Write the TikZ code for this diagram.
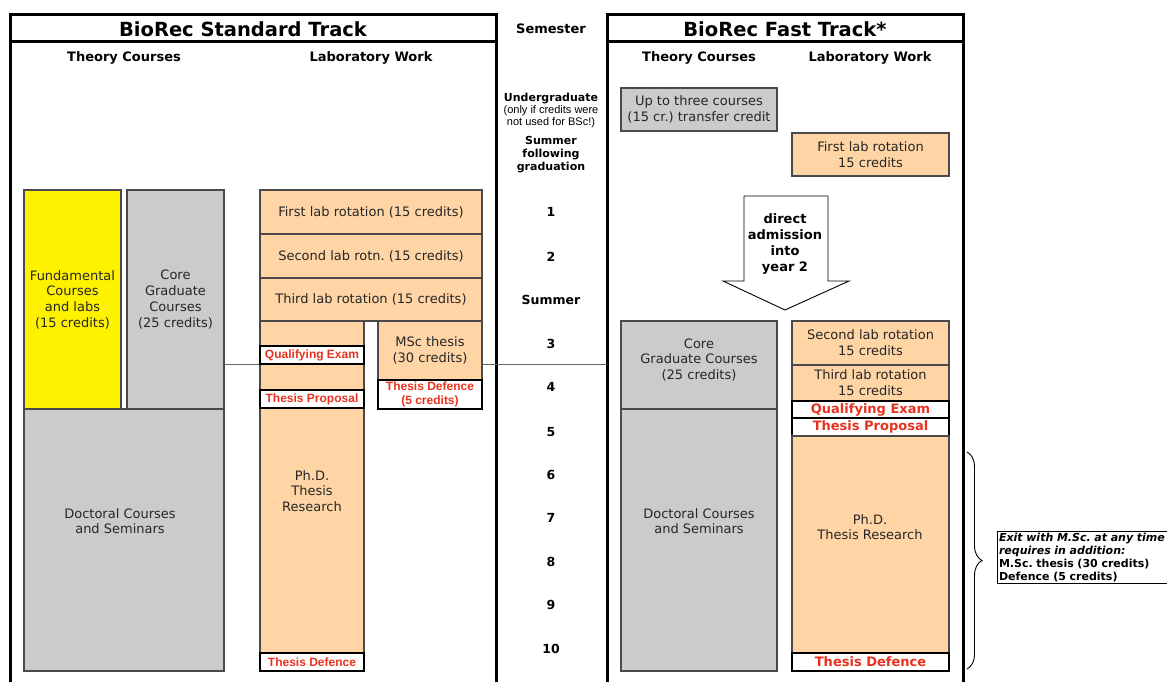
\documentclass[tikz,border=0pt]{standalone}
\usepackage{fontspec}
\setmainfont{DejaVu Sans}
\newfontfamily\arialf{Liberation Sans}
\usetikzlibrary{decorations.pathreplacing}
\frenchspacing
\definecolor{fyellow}{HTML}{FFF200}
\definecolor{fgray}{HTML}{CBCBCB}
\definecolor{forange}{HTML}{FFD5A6}
\definecolor{fred}{HTML}{E8321E}
\definecolor{fline}{HTML}{4A4A4A}
\newcommand\fsBody{\fontsize{13}{15.7}\selectfont}
\newcommand\fsTitle{\fontsize{19.5}{22}\selectfont\bfseries}
\newcommand\fsHead{\fontsize{13}{15}\selectfont\bfseries}
\newcommand\fsSem{\fontsize{12.5}{15}\selectfont\bfseries}
\newcommand\fsSemS{\fontsize{11}{13}\selectfont\bfseries}
\newcommand\fsNote{\arialf\fontsize{11}{12}\selectfont}
\newcommand\fsRedL{\arialf\fontsize{12}{13.5}\selectfont\bfseries}
\newcommand\fsRedR{\fontsize{13}{15}\selectfont\bfseries}
\newcommand\fsExit{\fontsize{11}{13}\selectfont\bfseries}
\begin{document}
\begin{tikzpicture}[x=1pt,y=-1pt,
  bx/.style={draw=fline, line width=1.1pt, inner sep=0pt, align=center, font=\fsBody, text=black!85},
  gbox/.style={bx, fill=fgray},
  obox/.style={bx, fill=forange},
  ybox/.style={bx, fill=fyellow},
  wbox/.style={draw=black, line width=1.1pt, fill=white, inner sep=0pt, align=center, text=fred},
  lbl/.style={inner sep=0pt, align=center, font=\fsBody, text=black!85},
  sem/.style={inner sep=0pt, align=center, font=\fsSem},
  hdr/.style={inner sep=0pt, font=\fsHead},
  ttl/.style={inner sep=0pt, font=\fsTitle},
  frame/.style={line width=3pt, black},
  sepline/.style={draw=black!60, line width=1pt}]
\useasboundingbox (0,0) rectangle (1167,682);
% frames
\draw[frame] (10,682) -- (10,15) -- (496,15) -- (496,682);
\draw[frame] (10,42) -- (496,42);
\draw[frame] (607,682) -- (607,15) -- (963,15) -- (963,682);
\draw[frame] (607,42) -- (963,42);
% titles
\node[ttl] (tL) at (243,29) {BioRec Standard Track};
\node[ttl] (tR) at (785,29) {BioRec Fast Track*};
\node[hdr] (sem) at (551,29) {Semester};
\node[hdr] (hL1) at (124,58) {Theory Courses};
\node[hdr] (hL2) at (371,58) {Laboratory Work};
\node[hdr] (hR1) at (699,58) {Theory Courses};
\node[hdr] (hR2) at (870,58) {Laboratory Work};
% semester column
\node[inner sep=0pt, font=\fsSemS] (ug) at (551,99) {Undergraduate};
\node[inner sep=0pt, align=center, font=\fsNote] (ugn) at (551,117) {(only if credits were\\not used for BSc!)};
\node[inner sep=0pt, align=center, font=\fsSemS] (sfg) at (551,155) {Summer\\following\\graduation};
\node[sem] (s1) at (551,212) {1};
\node[sem] (s2) at (551,257) {2};
\node[sem] (ssum) at (551,300) {Summer};
\node[sem] (s3) at (551,344) {3};
\node[sem] (s4) at (551,387) {4};
\node[sem] (s5) at (551,432) {5};
\node[sem] (s6) at (551,475) {6};
\node[sem] (s7) at (551,518) {7};
\node[sem] (s8) at (551,562) {8};
\node[sem] (s9) at (551,605) {9};
\node[sem] (s10) at (551,649) {10};
% standard track theory
\node[ybox, minimum width=97pt, minimum height=219pt] (fund) at (72.5,299.5) {Fundamental\\Courses\\and labs\\(15 credits)};
\node[gbox, minimum width=97pt, minimum height=219pt] (coreL) at (175.5,299.5) {Core\\Graduate\\Courses\\(25 credits)};
\node[gbox, minimum width=200pt, minimum height=262pt] (docL) at (124,540) {};
\node[lbl] (docLt) at (120,521) {Doctoral Courses\\and Seminars};
% standard track lab
\node[obox, minimum width=222pt, minimum height=44pt] (lab1) at (371,212) {First lab rotation (15 credits)};
\node[obox, minimum width=222pt, minimum height=44pt] (lab2) at (371,256) {Second lab rotn. (15 credits)};
\node[obox, minimum width=222pt, minimum height=43pt] (lab3) at (371,299.5) {Third lab rotation (15 credits)};
\node[obox, minimum width=104pt, minimum height=350pt] (phdL) at (312,496) {};
\node[wbox, font=\fsRedL, minimum width=104pt, minimum height=18pt] (qeL) at (312,355) {Qualifying Exam};
\node[wbox, font=\fsRedL, minimum width=104pt, minimum height=18pt] (tpL) at (312,399) {Thesis Proposal};
\node[wbox, font=\fsRedL, minimum width=104pt, minimum height=18pt] (tdL) at (312,662) {Thesis Defence};
\node[lbl] (phdLt) at (312,491) {Ph.D.\\Thesis\\Research};
\node[obox, minimum width=104pt, minimum height=59pt] (msc) at (430,350.5) {MSc thesis\\(30 credits)};
\node[wbox, font=\fsRedL, minimum width=104pt, minimum height=29pt] (mscd) at (430,394.5) {Thesis Defence\\(5 credits)};
% separator lines
\coordinate (y34) at (0,364);
\coordinate (frR) at (607,364);
\draw[sepline] (coreL.east |- y34) -- (phdL.west |- y34);
\draw[sepline] (msc.east |- y34) -- (frR);
% fast track
\node[gbox, minimum width=156pt, minimum height=43pt] (transfer) at (699,109.5) {Up to three courses\\(15 cr.) transfer credit};
\node[obox, minimum width=157pt, minimum height=43pt] (lab1R) at (870.5,154.5) {First lab rotation\\15 credits};
\draw[line width=0.9pt, fill=white] (744,196) -- (828,196) -- (828,281) -- (849,281) -- (785,310) -- (723,281) -- (744,281) -- cycle;
\node[inner sep=0pt, align=center, font=\fontsize{13}{16}\selectfont\bfseries] (arrt) at (785,244) {direct\\admission\\into\\year 2};
\node[gbox, minimum width=156pt, minimum height=88pt] (coreR) at (699,365) {};
\node[lbl] (coreRt) at (699,360) {Core\\Graduate Courses\\(25 credits)};
\node[gbox, minimum width=156pt, minimum height=262pt] (docR) at (699,540) {};
\node[lbl] (docRt) at (699,521) {Doctoral Courses\\and Seminars};
\node[obox, minimum width=157pt, minimum height=44pt] (lab2R) at (870.5,343) {Second lab rotation\\15 credits};
\node[obox, minimum width=157pt, minimum height=36pt] (lab3R) at (870.5,383) {Third lab rotation\\15 credits};
\node[wbox, font=\fsRedR, minimum width=157pt, minimum height=17pt] (qeR) at (870.5,409.5) {Qualifying Exam};
\node[wbox, font=\fsRedR, minimum width=157pt, minimum height=18pt] (tpR) at (870.5,427) {Thesis Proposal};
\node[obox, minimum width=157pt, minimum height=217pt] (phdR) at (870.5,544.5) {};
\node[lbl] (phdRt) at (870,527) {Ph.D.\\Thesis Research};
\node[wbox, font=\fsRedR, minimum width=157pt, minimum height=18pt] (tdR) at (870.5,662) {Thesis Defence};
% brace and exit note
\coordinate (brT) at (967,452);
\coordinate (brB) at (967,669);
\draw[decorate, decoration={brace, amplitude=15pt}, line width=0.9pt] (brT) -- (brB);
\node[draw=black, line width=1pt, anchor=north west, inner sep=1.5pt, text width=190pt, align=left, font=\fsExit] (exit) at (997,531) {\textit{Exit with M.Sc. at any time}\\\textit{requires in addition:}\\M.Sc. thesis (30 credits)\\Defence (5 credits)};
\end{tikzpicture}
\end{document}
